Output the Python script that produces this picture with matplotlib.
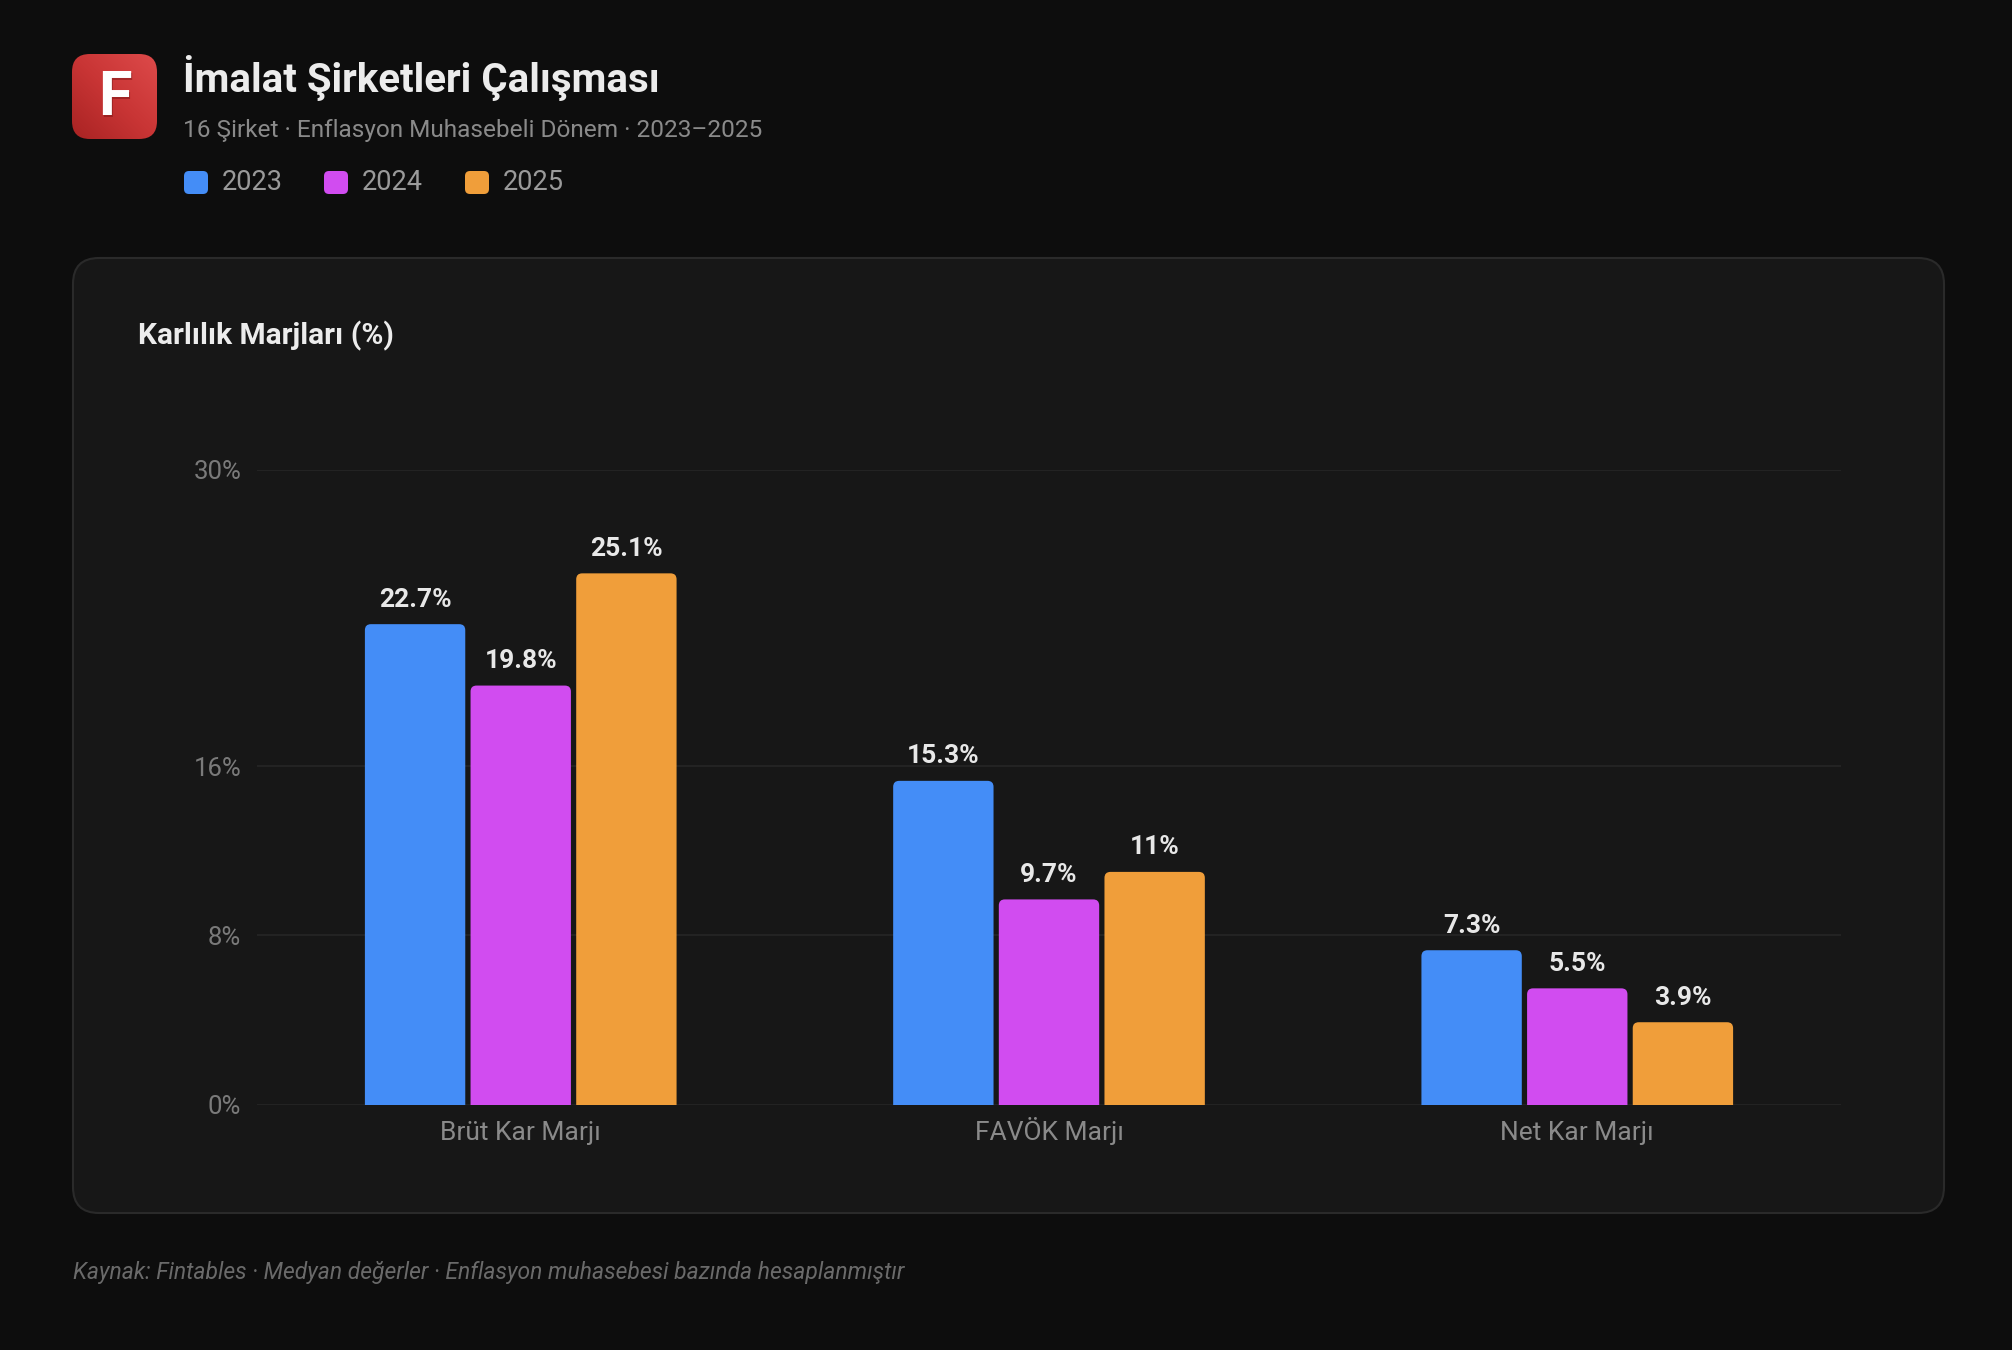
import numpy as np
import matplotlib
matplotlib.use("Agg")
import matplotlib.pyplot as plt
from matplotlib.patches import FancyBboxPatch
from matplotlib.colors import LinearSegmentedColormap

# ---- data ----
categories = ["Brüt Kar Marjı", "FAVÖK Marjı", "Net Kar Marjı"]
years = ["2023", "2024", "2025"]
values_2023 = [22.7, 15.3, 7.3]
values_2024 = [19.8, 9.7, 5.5]
values_2025 = [25.1, 11.0, 3.9]
value_labels_2023 = ["22.7%", "15.3%", "7.3%"]
value_labels_2024 = ["19.8%", "9.7%", "5.5%"]
value_labels_2025 = ["25.1%", "11%", "3.9%"]
y_ticks = [0, 8, 16, 30]
y_tick_labels = ["0%", "8%", "16%", "30%"]

title = "İmalat Şirketleri Çalışması"
subtitle = "16 Şirket · Enflasyon Muhasebeli Dönem · 2023–2025"
chart_title = "Karlılık Marjları (%)"
footer = "Kaynak: Fintables · Medyan değerler · Enflasyon muhasebesi bazında hesaplanmıştır"

colors = ["#448DF7", "#D14CF0", "#F09E3A"]
BG = "#0d0d0d"
CARD = "#171717"
FONT = ["Roboto", "DejaVu Sans"]
plt.rcParams["font.family"] = FONT

W, H = 2012, 1350
fig = plt.figure(figsize=(W / 100, H / 100), dpi=100, facecolor=BG)

# background axes in pixel coords
bg = fig.add_axes([0, 0, 1, 1])
bg.set_xlim(0, W)
bg.set_ylim(H, 0)
bg.axis("off")
bg.set_facecolor(BG)

# card
card = FancyBboxPatch((73, 258), 1871, 955, boxstyle="round,pad=0,rounding_size=26",
                      facecolor=CARD, edgecolor="#2a2a2a", linewidth=1.5)
bg.add_patch(card)

# logo
logo_ax = fig.add_axes([72 / W, 1 - 139 / H, 85 / W, 85 / H])
logo_ax.set_xlim(0, 1)
logo_ax.set_ylim(0, 1)
logo_ax.axis("off")
gx, gy = np.meshgrid(np.linspace(0, 1, 100), np.linspace(0, 1, 100))
grad = (gx + gy) / 2
cmap = LinearSegmentedColormap.from_list("lg", ["#a92323", "#c93535", "#dd4a4a"])
im = logo_ax.imshow(grad, cmap=cmap, extent=(0, 1, 0, 1), origin="lower", aspect="auto")
clip = FancyBboxPatch((0, 0), 1, 1, boxstyle="round,pad=0,rounding_size=0.21",
                      transform=logo_ax.transData, facecolor="none", edgecolor="none")
logo_ax.add_patch(clip)
im.set_clip_path(clip)
logo_ax.text(0.52, 0.46, "F", color="#7a1515", fontsize=44, fontweight="bold",
             ha="center", va="center", alpha=0.5)
logo_ax.text(0.5, 0.48, "F", color="white", fontsize=44, fontweight="bold",
             ha="center", va="center")

# header text
bg.text(183, 78, title, color="#ececec", fontsize=29, fontweight="bold", va="center", ha="left")
bg.text(183, 131, subtitle, color="#8a8a8a", fontsize=17.6, va="center", ha="left")
leg_x = [184, 324, 465]
for i, yr in enumerate(years):
    bg.add_patch(FancyBboxPatch((leg_x[i], 171), 24, 23, boxstyle="round,pad=0,rounding_size=5",
                                facecolor=colors[i], edgecolor="none"))
    bg.text(leg_x[i] + 38, 182, yr, color="#9a9a9a", fontsize=19.5, va="center", ha="left")

bg.text(138, 336, chart_title, color="#ececec", fontsize=21.5, fontweight="bold", va="center", ha="left")
bg.text(73, 1272, footer, color="#6a6a6a", fontsize=16.5, fontstyle="italic", va="center", ha="left")

# chart axes
left, right, top, bottom = 256.6, 1841.4, 469.6, 1104.8
ax = fig.add_axes([left / W, 1 - bottom / H, (right - left) / W, (bottom - top) / H])
ax.set_facecolor("none")
ax.set_xlim(-0.5, 2.5)
ax.set_ylim(0, 30)
for s in ax.spines.values():
    s.set_visible(False)
ax.set_yticks(y_ticks)
ax.set_yticklabels(y_tick_labels)
ax.tick_params(axis="y", length=0, pad=11, labelsize=18.5, labelcolor="#7a7a7a")
x = np.arange(len(categories))
ax.set_xticks(x)
ax.set_xticklabels(categories)
ax.tick_params(axis="x", length=0, pad=25.5, labelsize=19, labelcolor="#8a8a8a")
for t in ax.get_xticklabels():
    t.set_verticalalignment("baseline")
ax.grid(axis="y", color="#262626", linewidth=1.2)
ax.set_axisbelow(True)

series = [values_2023, values_2024, values_2025]
labels = [value_labels_2023, value_labels_2024, value_labels_2025]
step = 0.2
bw = 0.19
fig.canvas.draw()
p0 = ax.transData.transform((0, 0))
p1 = ax.transData.transform((1, 1))
px_x = p1[0] - p0[0]
px_y = p1[1] - p0[1]
r_px = 6
r_x = r_px / px_x
aspect = px_x / px_y
for i, (vals, labs) in enumerate(zip(series, labels)):
    bars = ax.bar(x + (i - 1) * step, vals, width=bw, color=colors[i], zorder=3)
    for b, lab in zip(bars, labs):
        b.set_visible(False)
        bx, by, bwid, bh = b.get_x(), b.get_y(), b.get_width(), b.get_height()
        ext = r_px / px_y
        p = FancyBboxPatch((bx, by - ext), bwid, bh + ext,
                           boxstyle=f"round,pad=0,rounding_size={r_x}",
                           mutation_aspect=aspect, facecolor=colors[i], edgecolor="none",
                           zorder=3)
        ax.add_patch(p)
        ax.annotate(lab, (bx + bwid / 2, bh), xytext=(0, 9), textcoords="offset points",
                    ha="center", va="bottom", color="#e8e8e8", fontsize=19,
                    fontweight="bold", annotation_clip=False)

fig.savefig("out.png", dpi=100, facecolor=BG)
